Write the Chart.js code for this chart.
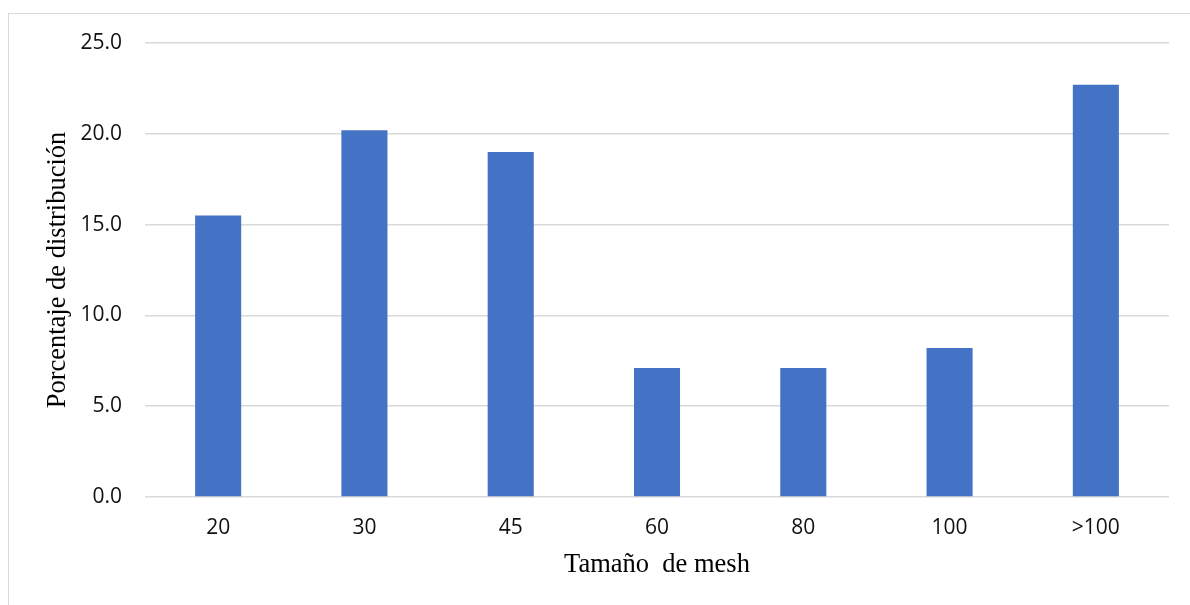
<!DOCTYPE html>
<html lang="es">

<head>
    <meta charset="utf-8" />
    <title>Porcentaje de distribución</title>
    <script src="https://cdn.jsdelivr.net/npm/chart.js@4.4.0/dist/chart.umd.min.js"></script>
    <style>
        html, body { margin: 0; padding: 0; background: #fff; overflow: hidden; }
        #frame {
            position: absolute; left: 8px; top: 13px; width: 1300px; height: 700px;
            border: 1.5px solid #d9d9d9; box-sizing: border-box;
        }
        #wrap { position: absolute; left: 0; top: 0; width: 1190px; height: 605px; }
    </style>
</head>

<body>
    <div id="frame"></div>
    <div id="wrap">
        <canvas id="meshChart" width="1190" height="605"></canvas>
    </div>

    <script>
        // datos
        const meshLabels = ["20", "30", "45", "60", "80", "100", ">100"];
        const distribucion = [15.5, 20.2, 19.0, 7.1, 7.1, 8.2, 22.7];
        const yTicks = [0, 5, 10, 15, 20, 25];

        const tickFont = { family: "'Open Sans', sans-serif", size: 21 };
        const titleFont = { family: "'Liberation Serif', 'Times New Roman', serif", size: 26.5 };

        let ctx = document.getElementById("meshChart");

        let meshChart = new Chart(ctx, {
            type: "bar",
            data: {
                labels: meshLabels,
                datasets: [
                    {
                        label: "Porcentaje",
                        data: distribucion,
                        backgroundColor: "#4472C4",
                        borderWidth: 0,
                        barPercentage: 0.315,
                        categoryPercentage: 1.0,
                    },
                ],
            },
            options: {
                responsive: false,
                animation: false,
                layout: { padding: { left: 0, top: 43, right: 21, bottom: 0 } },
                plugins: {
                    legend: { display: false },
                    tooltip: { enabled: false },
                },
                scales: {
                    x: {
                        grid: { display: false, drawTicks: false },
                        border: { display: false },
                        ticks: { color: "#111", font: tickFont, padding: 18 },
                        title: {
                            display: true,
                            text: "Tamaño  de mesh",
                            color: "#000",
                            font: titleFont,
                            padding: { top: 0, bottom: 24 },
                        },
                        afterFit: (scale) => { scale.height = 108; },
                    },
                    y: {
                        min: 0,
                        max: 25,
                        afterBuildTicks: (scale) => {
                            scale.ticks = yTicks.map((v) => ({ value: v }));
                        },
                        grid: { color: "#d9d9d9", lineWidth: 1.5, drawTicks: false },
                        border: { display: false },
                        ticks: {
                            color: "#111",
                            font: tickFont,
                            padding: 23,
                            callback: (v) => v.toFixed(1),
                        },
                        title: {
                            display: true,
                            text: "Porcentaje de distribución",
                            color: "#000",
                            font: titleFont,
                            padding: { top: 42, bottom: 0 },
                        },
                        afterFit: (scale) => { scale.width = 145; },
                    },
                },
            },
        });
    </script>
</body>

</html>
